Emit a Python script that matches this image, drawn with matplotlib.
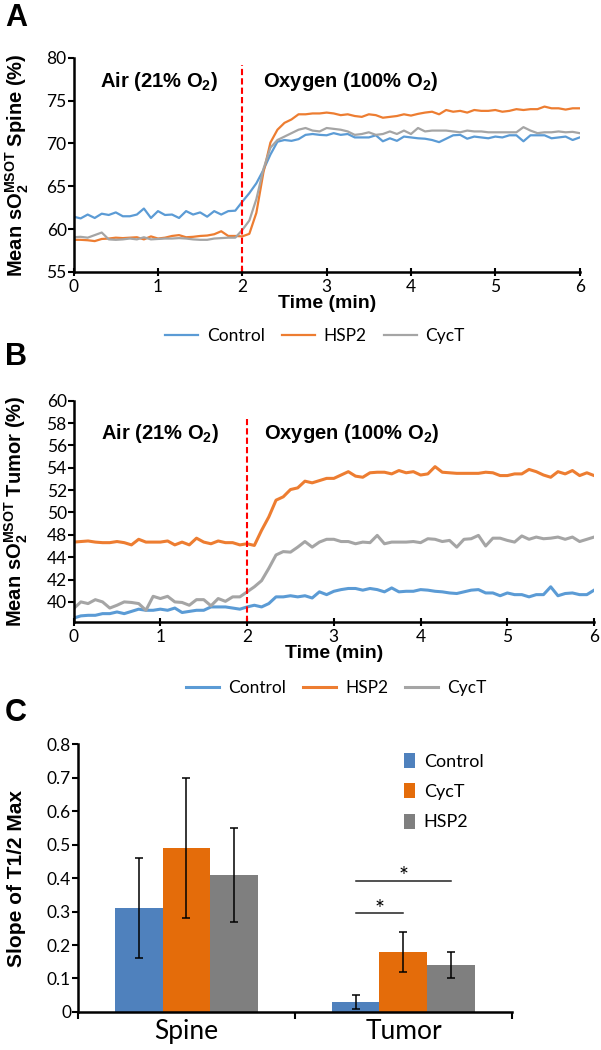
import numpy as np
import matplotlib
matplotlib.use('Agg')
import matplotlib.pyplot as plt

plt.rcParams['font.family'] = ['Lato', 'DejaVu Sans']
plt.rcParams['mathtext.fontset'] = 'custom'
plt.rcParams['mathtext.rm'] = 'Liberation Sans:bold'
plt.rcParams['mathtext.bf'] = 'Liberation Sans:bold'

# sampling every 5 s, 0..6 min
time_min = np.arange(73) / 12

# panel A: mean sO2 (MSOT) spine, %
spine_control = [61.45, 61.25, 61.7, 61.3, 61.8, 61.65, 61.95, 61.5, 61.5, 61.7, 62.4, 61.3, 62.1,
                 61.65, 61.7, 61.3, 62.1, 61.7, 61.95, 61.45, 62.1, 61.7, 62.1, 62.15, 63.2,
                 64.2, 65.35, 66.9, 68.7, 70.2, 70.4, 70.3, 70.5, 71.0, 71.1, 71.0, 70.95, 71.2,
                 71.0, 71.1, 70.7, 70.7, 70.7, 70.95, 70.25, 70.6, 70.3, 70.8, 70.7, 70.6, 70.55,
                 70.4, 70.15, 70.55, 70.95, 71.0, 70.55, 70.8, 70.7, 70.6, 70.8, 70.7, 70.95,
                 70.95, 70.25, 70.95, 70.95, 70.95, 70.6, 70.7, 70.8, 70.4, 70.7]
spine_hsp2 = [58.75, 58.75, 58.7, 58.6, 58.85, 58.9, 59.0, 58.95, 59.0, 59.05, 58.8, 59.15, 58.9,
              59.0, 59.2, 59.3, 59.05, 59.1, 59.2, 59.25, 59.4, 59.75, 59.2, 59.2, 59.15,
              59.45, 61.9, 66.6, 70.1, 71.6, 72.4, 72.8, 73.4, 73.4, 73.5, 73.5, 73.6, 73.5,
              73.3, 73.4, 73.2, 73.1, 73.4, 73.3, 73.0, 73.1, 73.2, 73.4, 73.25, 73.45, 73.6,
              73.7, 73.4, 73.9, 73.7, 73.8, 73.6, 73.9, 73.8, 73.8, 73.9, 73.7, 73.8, 74.0,
              73.9, 74.0, 74.0, 74.3, 74.1, 74.1, 73.95, 74.1, 74.1]
spine_cyct = [59.05, 59.1, 59.0, 59.3, 59.6, 58.8, 58.75, 58.8, 58.9, 58.8, 59.05, 58.8, 58.85,
              58.9, 58.9, 58.95, 58.9, 58.8, 58.75, 58.75, 58.9, 58.95, 59.0, 59.0, 59.9,
              61.0, 63.5, 67.0, 69.5, 70.4, 70.8, 71.2, 71.6, 71.8, 71.5, 71.4, 71.8, 71.7,
              71.6, 71.4, 71.0, 71.1, 71.3, 71.0, 71.1, 71.4, 71.1, 71.5, 71.1, 71.8, 71.4,
              71.5, 71.5, 71.5, 71.4, 71.3, 71.5, 71.4, 71.4, 71.3, 71.3, 71.3, 71.3, 71.3,
              71.9, 71.5, 71.2, 71.3, 71.3, 71.4, 71.3, 71.35, 71.2]

# panel B: mean sO2 (MSOT) tumor, in the axis' own tick units
tumor_control = [40.55, 40.75, 40.8, 40.8, 40.95, 40.95, 41.1, 40.95, 41.15, 41.35, 41.25, 41.25,
                 41.35, 41.25, 41.45, 41.05, 41.15, 41.25, 41.25, 41.55, 41.55, 41.55, 41.45,
                 41.35, 41.55,
                 41.7, 41.55, 41.85, 42.45, 42.45, 42.55, 42.45, 42.55, 42.35, 42.9, 42.65,
                 42.95, 43.1, 43.2, 43.2, 43.05, 43.2, 43.1, 42.9, 43.25, 42.9, 42.95, 42.95,
                 43.1, 43.05, 42.95, 42.9, 42.8, 42.75, 42.9, 43.05, 43.1, 42.8, 42.8, 42.55,
                 42.8, 42.65, 42.65, 42.45, 42.65, 42.65, 43.35, 42.55, 42.75, 42.8, 42.65,
                 42.65, 43.05]
tumor_hsp2 = [47.35, 47.4, 47.45, 47.35, 47.3, 47.3, 47.4, 47.3, 47.1, 47.6, 47.35, 47.35, 47.35,
              47.45, 47.1, 47.35, 47.1, 47.7, 47.35, 47.2, 47.45, 47.3, 47.3, 47.1, 47.2,
              47.05, 48.4, 49.6, 51.1, 51.4, 52.05, 52.2, 52.8, 52.65, 52.85, 53.05, 53.05,
              53.35, 53.65, 53.25, 53.15, 53.55, 53.6, 53.6, 53.45, 53.75, 53.55, 53.65, 53.35,
              53.45, 54.1, 53.6, 53.55, 53.5, 53.5, 53.5, 53.5, 53.6, 53.55, 53.3, 53.3, 53.45,
              53.45, 53.85, 53.65, 53.35, 53.15, 53.65, 53.45, 53.75, 53.3, 53.55, 53.3]
tumor_cyct = [41.4, 42.0, 41.85, 42.2, 42.0, 41.45, 41.7, 42.0, 41.95, 41.85, 41.25, 42.5, 42.3,
              42.5, 42.0, 41.95, 41.7, 42.2, 42.2, 41.65, 42.3, 42.05, 42.45, 42.45, 42.9,
              43.35, 43.9, 45.0, 46.2, 46.5, 46.45, 46.9, 47.4, 46.9, 47.35, 47.6, 47.6, 47.4,
              47.4, 47.2, 47.35, 47.3, 47.95, 47.2, 47.35, 47.35, 47.35, 47.4, 47.3, 47.65,
              47.6, 47.4, 47.5, 46.9, 47.6, 47.65, 47.95, 47.0, 47.7, 47.7, 47.5, 47.35, 47.9,
              47.6, 47.8, 47.65, 47.7, 47.8, 47.6, 47.8, 47.4, 47.6, 47.8]
tumor_ytick_pos = [42, 44, 46, 48, 50, 52, 54, 56, 58, 60]
tumor_ytick_lab = ['40', '42', '44', '48', '50', '52', '54', '56', '58', '60']

# panel C: slope of T1/2 max
groups = ['Spine', 'Tumor']
bar_names = ['Control', 'CycT', 'HSP2']
bar_vals = {'Control': [0.31, 0.03], 'CycT': [0.49, 0.18], 'HSP2': [0.41, 0.14]}
bar_errs = {'Control': [0.15, 0.02], 'CycT': [0.21, 0.06], 'HSP2': [0.14, 0.04]}

line_cols = {'Control': '#5B9BD5', 'HSP2': '#ED7D31', 'CycT': '#A5A5A5'}
bar_cols = {'Control': '#4F81BD', 'CycT': '#E46C0A', 'HSP2': '#7F7F7F'}

bold = dict(family='Liberation Sans', weight='bold')

fig = plt.figure(figsize=(6.01, 10.5), dpi=100)


def style_time_axes(ax):
    for s in ['top', 'right']:
        ax.spines[s].set_visible(False)
    for s in ['left', 'bottom']:
        ax.spines[s].set_linewidth(1.8)
    ax.tick_params(axis='y', direction='out', length=4, width=1.5, labelsize=12.5, pad=1)
    ax.tick_params(axis='x', direction='inout', length=6, width=1.5, labelsize=12.5, pad=2)
    ax.set_xlim(0, 6)
    ax.set_xticks(range(7))
    ax.set_xlabel('Time (min)', fontsize=14, labelpad=0, **bold)


# ---- A ----
axA = fig.add_axes([0.1225, 0.741, 0.842, 0.204])
axA.plot(time_min, spine_control, color=line_cols['Control'], lw=1.6, label='Control')
axA.plot(time_min, spine_hsp2, color=line_cols['HSP2'], lw=1.6, label='HSP2')
axA.plot(time_min, spine_cyct, color=line_cols['CycT'], lw=1.6, label='CycT')
axA.axvline(2, ymax=0.967, color='#FF0000', lw=1.5, ls=(0, (3, 1.5)))
axA.set_ylim(55, 80)
axA.set_yticks(range(55, 81, 5))
style_time_axes(axA)
axA.set_ylabel(r'Mean sO$_{\mathrm{2}}^{\mathrm{MSOT}}$ Spine (%)', fontsize=14.5, **bold)
axA.yaxis.set_label_coords(-0.085, 0.5)
axA.text(0.31, 77.2, r'Air (21% O$_{\mathrm{2}}$)', fontsize=14.5, va='center', **bold)
axA.text(2.24, 77.2, r'Oxygen (100% O$_{\mathrm{2}}$)', fontsize=14.5, va='center', **bold)
axA.legend(loc='center', bbox_to_anchor=(0.477, -0.3), ncol=3, frameon=False, fontsize=12.5,
           handlelength=1.9, handletextpad=0.5, columnspacing=1.0)
fig.text(0.008, 0.983, 'A', fontsize=22, va='center', **bold)

# ---- B ----
axB = fig.add_axes([0.1225, 0.4076, 0.866, 0.2108])
axB.plot(time_min, tumor_control, color=line_cols['Control'], lw=2.2, label='Control')
axB.plot(time_min, tumor_hsp2, color=line_cols['HSP2'], lw=2.2, label='HSP2')
axB.plot(time_min, tumor_cyct, color=line_cols['CycT'], lw=2.2, label='CycT')
axB.axvline(2, ymax=0.918, color='#FF0000', lw=1.5, ls=(0, (3, 1.5)))
axB.set_ylim(40.2, 60)
axB.set_yticks(tumor_ytick_pos)
axB.set_yticklabels(tumor_ytick_lab)
style_time_axes(axB)
axB.set_ylabel(r'Mean sO$_{\mathrm{2}}^{\mathrm{MSOT}}$ Tumor (%)', fontsize=14.5, **bold)
axB.yaxis.set_label_coords(-0.083, 0.5)
axB.text(0.31, 57.1, r'Air (21% O$_{\mathrm{2}}$)', fontsize=14.5, va='center', **bold)
axB.text(2.19, 57.1, r'Oxygen (100% O$_{\mathrm{2}}$)', fontsize=14.5, va='center', **bold)
axB.legend(loc='center', bbox_to_anchor=(0.505, -0.3), ncol=3, frameon=False, fontsize=12.5,
           handlelength=1.9, handletextpad=0.5, columnspacing=1.0)
fig.text(0.008, 0.66, 'B', fontsize=22, va='center', **bold)

# ---- C ----
axC = fig.add_axes([0.1298, 0.0362, 0.722, 0.2552])
x = np.arange(len(groups))
w = 0.221
for i, name in enumerate(bar_names):
    axC.bar(x + (i - 1) * w, bar_vals[name], w, color=bar_cols[name], label=name,
            yerr=bar_errs[name], capsize=2.8, error_kw=dict(elinewidth=1.1, capthick=1.1))
axC.set_xlim(-0.5, 1.5)
axC.set_ylim(0, 0.8)
axC.set_yticks(np.arange(0, 0.81, 0.1))
axC.set_yticklabels(['0'] + ['%.1f' % v for v in np.arange(0.1, 0.81, 0.1)])
axC.set_xticks([-0.5, 0.5, 1.5])
axC.set_xticklabels([])
axC.set_xticks(x, minor=True)
axC.set_xticklabels(groups, minor=True, fontsize=19)
axC.tick_params(axis='x', which='major', direction='out', length=5, width=1.5)
axC.tick_params(axis='x', which='minor', length=0, pad=5)
axC.tick_params(axis='y', direction='out', length=4, width=1.5, labelsize=12.5, pad=1)
for s in ['top', 'right']:
    axC.spines[s].set_visible(False)
for s in ['left', 'bottom']:
    axC.spines[s].set_linewidth(1.8)
axC.set_ylabel('Slope of T1/2 Max', fontsize=15, **bold)
axC.yaxis.set_label_coords(-0.12, 0.5)

# significance bars
axC.plot([1 - w, 1], [0.295, 0.295], color='#222222', lw=1.1)
axC.plot([1 - w, 1 + w], [0.39, 0.39], color='#222222', lw=1.1)
axC.text(1 - w / 2, 0.305, '*', ha='center', va='center', fontsize=17)
axC.text(1, 0.405, '*', ha='center', va='center', fontsize=17)

axC.legend(loc='upper left', bbox_to_anchor=(0.73, 1.0), frameon=False, fontsize=13,
           handlelength=0.6, handleheight=0.9, handletextpad=0.5, labelspacing=0.75,
           borderpad=0)
fig.text(0.008, 0.321, 'C', fontsize=22, va='center', **bold)

fig.savefig('out.png', dpi=100)
